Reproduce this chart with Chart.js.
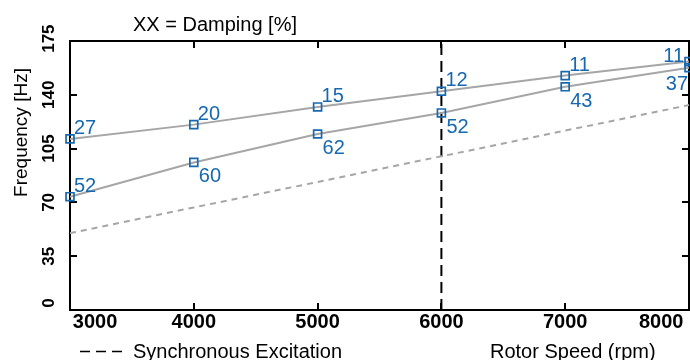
<!DOCTYPE html>
<html>
<head>
<meta charset="utf-8">
<script src="https://cdn.jsdelivr.net/npm/chart.js@4/dist/chart.umd.min.js"></script>
<style>
  html, body { margin: 0; padding: 0; background: #fff; }
  #wrap { width: 690px; height: 360px; }
</style>
</head>
<body>
<div id="wrap"><canvas id="c" width="690" height="360"></canvas></div>
<script>
// ---- data ----
const rotorSpeeds   = [3000, 4000, 5000, 6000, 7000, 8000];
const upperFreq     = [111.3, 120.6, 132.1, 142.3, 152.5, 161.6];
const lowerFreq     = [73.7, 96.0, 114.5, 128.2, 145.2, 157.6];
const upperDamping  = ['27', '20', '15', '12', '11', '11'];
const lowerDamping  = ['52', '60', '62', '52', '43', '37'];
const syncSpeeds    = [3000, 4000, 5000, 6000, 7000, 8000];
const syncFreq      = [50, 66.7, 83.3, 100, 116.7, 133.3];
const markerSpeed   = [6000, 6000];
const markerFreq    = [0, 175];
const xTickLabels   = ['3000', '4000', '5000', '6000', '7000', '8000'];
const yTickLabels   = ['0', '35', '70', '105', '140', '175'];
const titleText     = 'XX = Damping [%]';
const yTitleText    = 'Frequency [Hz]';
const xTitleText    = 'Rotor Speed (rpm)';
const legendText    = 'Synchronous Excitation';

const FONT = "'Liberation Sans', Arial, Helvetica, sans-serif";
const BLUE = '#1668b0';
const GREY = '#a6a6a6';

// label placement for each point (style, not data)
const upperPlace = ['ne', 'ne', 'ne', 'ne', 'ne', 'w'];
const lowerPlace = ['ne', 'se', 'se', 'se', 'se', 'sw'];

function toXY(xs, ys) { return xs.map((x, i) => ({ x: x, y: ys[i] })); }

const labelsPlugin = {
  id: 'pointLabels',
  afterDatasetsDraw(chart) {
    const ctx = chart.ctx;
    ctx.save();
    ctx.font = '20px ' + FONT;
    ctx.fillStyle = BLUE;
    ctx.textBaseline = 'alphabetic';
    [[0, upperDamping, upperPlace], [1, lowerDamping, lowerPlace]].forEach(([di, labels, place]) => {
      const meta = chart.getDatasetMeta(di);
      meta.data.forEach((pt, i) => {
        const p = place[i];
        let x = pt.x, y = pt.y;
        if (p === 'ne') { ctx.textAlign = 'left'; x += 4; y -= 5; }
        else if (p === 'se') { ctx.textAlign = 'left'; x += 5; y += 20; }
        else if (p === 'w') { ctx.textAlign = 'right'; x -= 5; y += 0; }
        else if (p === 'sw') { ctx.textAlign = 'right'; x -= 1; y += 22; }
        ctx.fillText(labels[i], x, y);
      });
    });
    ctx.restore();
  },
  afterDraw(chart) {
    const ctx = chart.ctx;
    ctx.save();
    ctx.fillStyle = '#000';
    ctx.font = '20px ' + FONT;
    ctx.textBaseline = 'alphabetic';
    ctx.textAlign = 'left';
    ctx.fillText(titleText, 133, 31);
    ctx.fillText(legendText, 133, 357.5);
    ctx.fillText(xTitleText, 490, 357.5);
    // legend dashed sample
    ctx.strokeStyle = '#000';
    ctx.lineWidth = 1.6;
    ctx.setLineDash([10, 6]);
    ctx.beginPath();
    ctx.moveTo(80, 351.5);
    ctx.lineTo(126, 351.5);
    ctx.stroke();
    ctx.setLineDash([]);
    // y title
    ctx.translate(27, 132.5);
    ctx.rotate(-Math.PI / 2);
    ctx.font = '19px ' + FONT;
    ctx.textAlign = 'center';
    ctx.fillText(yTitleText, 0, 0);
    ctx.restore();
  }
};

function boxAxis(extra) {
  return Object.assign({
    type: 'linear',
    border: { display: true, color: '#000', width: 2 },
    grid: { display: true, drawOnChartArea: false, drawTicks: true, tickLength: -7, color: '#000', lineWidth: 2 },
  }, extra);
}

new Chart(document.getElementById('c'), {
  type: 'line',
  data: {
    datasets: [
      {
        data: toXY(rotorSpeeds, upperFreq),
        borderColor: GREY, borderWidth: 2, tension: 0,
        pointStyle: 'rect', pointRadius: 5.6, pointBorderWidth: 1.7,
        pointBorderColor: BLUE, pointBackgroundColor: 'rgba(0,0,0,0)',
        clip: false
      },
      {
        data: toXY(rotorSpeeds, lowerFreq),
        borderColor: GREY, borderWidth: 2, tension: 0,
        pointStyle: 'rect', pointRadius: 5.6, pointBorderWidth: 1.7,
        pointBorderColor: BLUE, pointBackgroundColor: 'rgba(0,0,0,0)',
        clip: false
      },
      {
        data: toXY(syncSpeeds, syncFreq),
        borderColor: GREY, borderWidth: 2, borderDash: [6, 5], tension: 0,
        pointRadius: 0
      },
      {
        data: toXY(markerSpeed, markerFreq),
        borderColor: '#000', borderWidth: 2, borderDash: [11, 6], tension: 0,
        pointRadius: 0
      }
    ]
  },
  options: {
    responsive: false,
    animation: false,
    devicePixelRatio: 1,
    layout: { autoPadding: false, padding: { top: 41, right: 1, left: 0, bottom: 0 } },
    plugins: { legend: { display: false }, tooltip: { enabled: false }, title: { display: false } },
    scales: {
      x: boxAxis({
        position: 'bottom', min: 3000, max: 8000,
        ticks: {
          stepSize: 1000, autoSkip: false, maxRotation: 0, minRotation: 0,
          color: '#000', font: { family: FONT, size: 20, weight: 'bold' }, padding: 7.5,
          callback: (v, i, arr) => {
            const t = xTickLabels[i];
            if (i === 0) return ' '.repeat(9) + t;
            if (i === arr.length - 1) return t + ' '.repeat(10);
            return t;
          }
        },
        afterFit: (s) => { s.height = 50; s.paddingLeft = 0; s.paddingRight = 0; }
      }),
      y: boxAxis({
        position: 'left', min: 0, max: 175,
        ticks: {
          stepSize: 35, minRotation: 90, maxRotation: 90, crossAlign: 'center',
          color: '#000', font: { family: FONT, size: 17, weight: 'bold' }, padding: 11.5,
          callback: (v, i, arr) => {
            const t = yTickLabels[i];
            if (i === 0) return '   ' + t;
            if (i === arr.length - 1) return ' ' + t;
            return t;
          }
        },
        afterFit: (s) => { s.width = 70; s.paddingTop = 0; s.paddingBottom = 0; }
      }),
      x2: boxAxis({
        position: 'top', min: 3000, max: 8000,
        ticks: { display: false, stepSize: 1000 },
        afterFit: (s) => { s.height = 0; s.paddingLeft = 0; s.paddingRight = 0; }
      }),
      y2: boxAxis({
        position: 'right', min: 0, max: 175,
        ticks: { display: false, stepSize: 35 },
        afterFit: (s) => { s.width = 0; s.paddingTop = 0; s.paddingBottom = 0; }
      })
    }
  },
  plugins: [labelsPlugin]
});
</script>
</body>
</html>
